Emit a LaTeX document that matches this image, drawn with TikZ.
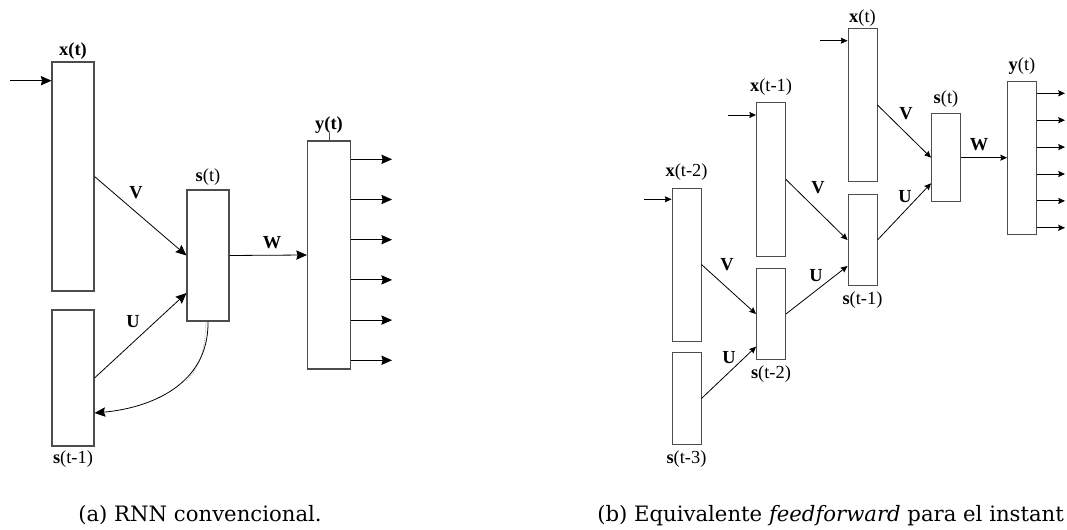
\documentclass[tikz,border=0pt]{standalone}
\usepackage{fontspec}
\setmainfont{Liberation Serif}
\newfontfamily\capfont{DejaVu Serif}
\usetikzlibrary{arrows.meta}
\tikzset{
  caja/.style={draw=black!70, line width=0.8pt, inner sep=0pt, minimum width=31.5pt},
  cajab/.style={draw=black!70, line width=0.7pt, inner sep=0pt, minimum width=21.75pt},
  lbl/.style={font=\fontsize{13.8}{16}\selectfont, inner sep=1pt},
  peso/.style={font=\fontsize{13.8}{16}\selectfont\bfseries, inner sep=1pt},
  flecha/.style={-{Stealth[length=8pt,width=7pt,inset=1pt]}, line width=0.6pt},
  flechab/.style={-{Stealth[length=5pt,width=4.5pt,inset=0.6pt]}, line width=0.6pt},
  leyenda/.style={font=\capfont\fontsize{15.9}{19}\selectfont, anchor=base west, inner sep=0pt},
}

\begin{document}
\begin{tikzpicture}[x=0.75pt, y=-0.75pt, label distance=3pt]
\useasboundingbox (0,0) rectangle (1067,530);
% (a) red recurrente
\begin{scope}
\node[caja, minimum height=171.75pt, label={[lbl, label distance=0.5pt]above:\textbf{x(t)}}] (xt) at (73,176.5) {};
\node[caja, minimum height=102pt, label={[lbl, label distance=2pt]below:\textbf{s}(t-1)}] (sprev) at (73,378) {};
\node[caja, minimum height=98.25pt, label={[lbl, label distance=2pt]above:\textbf{s}(t)}] (st) at (208,255.5) {};
\node[caja, minimum width=32.25pt, minimum height=171pt, label={[lbl, label distance=4pt]above:\textbf{y(t)}}] (yt) at (329,255) {};
\draw[draw=black!70, line width=0.6pt] (yt.north) -- ++(0,-7);
\coordinate (inx) at (10,80.7);
\draw[flecha] (inx) -- (inx -| xt.west);
\draw[flecha] (xt.east) -- (st.west);
\draw[flecha] (sprev.east) -- (st.west |- 0,293);
\draw[flecha] (st.east) -- (yt.west);
\foreach \y in {159.3,199.5,239.7,279.9,320.1,360.3}
  \draw[flecha] (yt.east |- 0,\y) -- ++(41,0);
\draw[densely dotted, black!35, line width=0.6pt] (206,323) .. controls (205,350) and (200,368) .. (186,381);
\draw[flecha] (st.south) .. controls (209,385) and (150,408) .. (sprev.east |- 0,413);
\node[peso] (va) at (136,193) {V};
\node[peso] (ua) at (133,322) {U};
\node[peso] (wa) at (272,243) {W};
\node[leyenda] (capa) at (78,522) {(a) RNN convencional.};
\end{scope}
% (b) red desplegada
\begin{scope}
\node[cajab, minimum height=114.75pt, label={[lbl, label distance=4pt]above:\textbf{x}(t-2)}] (rx2) at (686.5,264.5) {};
\node[cajab, minimum height=68.7pt, label={[lbl]below:\textbf{s}(t-3)}] (rs3) at (686.5,398.5) {};
\node[cajab, minimum height=115pt, label={[lbl, label distance=4pt]above:\textbf{x}(t-1)}] (rx1) at (771,179.5) {};
\node[cajab, minimum height=68.8pt, label={[lbl]below:\textbf{s}(t-2)}] (rs2) at (771,314) {};
\node[cajab, minimum height=115pt, label={[lbl, label distance=0pt]above:\textbf{x}(t)}] (rx0) at (862.5,105) {};
\node[cajab, minimum height=68.8pt, label={[lbl]below:\textbf{s}(t-1)}] (rs1) at (862.5,240) {};
\node[cajab, minimum height=66pt, label={[lbl]above:\textbf{s}(t)}] (rs0) at (946,157.7) {};
\node[cajab, minimum height=115pt, label={[lbl]above:\textbf{y}(t)}] (ry) at (1022,157.7) {};
\coordinate (in2) at (644,199.3);
\coordinate (in1) at (728,115);
\coordinate (in0) at (820,40.7);
\draw[flechab] (in2) -- (in2 -| rx2.west);
\draw[flechab] (in1) -- (in1 -| rx1.west);
\draw[flechab] (in0) -- (in0 -| rx0.west);
\draw[flechab] (rx2.east) -- (rs2.west);
\draw[flechab] (rs3.east) -- (rs2.west |- 0,346.7);
\draw[flechab] (rx1.east) -- (rs1.west);
\draw[flechab] (rs2.east) -- (rs1.west |- 0,266);
\draw[flechab] (rx0.east) -- (rs0.west);
\draw[flechab] (rs1.east) -- (rs0.west |- 0,183.3);
\draw[flechab] (rs0.east) -- (ry.west);
\foreach \y in {93.3,120.2,147.1,174,200.9,227.8}
  \draw[flechab] (ry.east |- 0,\y) -- ++(28,0);
\node[peso] (v2) at (727,265) {V};
\node[peso] (u2) at (729,358) {U};
\node[peso] (v1) at (818,188) {V};
\node[peso] (u1) at (816,276) {U};
\node[peso] (v0) at (906,114) {V};
\node[peso] (u0) at (905,197) {U};
\node[peso] (wb) at (979,145) {W};
\node[leyenda] (capb) at (597,522) {(b) Equivalente \textit{feedforward} para el instant};
\end{scope}
\end{tikzpicture}
\end{document}
